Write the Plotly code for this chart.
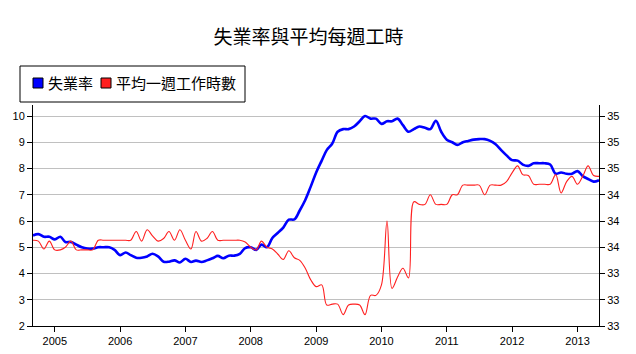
import plotly.graph_objects as go
import pandas as pd

title_text = "失業率與平均每週工時"
series_names = ["失業率", "平均一週工作時數"]
start_month = "2004-09-01"
end_month = "2013-05-01"
year_ticks = ["2005", "2006", "2007", "2008", "2009", "2010", "2011", "2012", "2013"]

unemployment = [
    5.45, 5.5, 5.4, 5.4,
    5.3, 5.4, 5.2, 5.2, 5.1, 5.0, 4.95, 4.95, 5.0, 5.0, 5.0, 4.9,
    4.7, 4.8, 4.7, 4.6, 4.6, 4.65, 4.75, 4.65, 4.45, 4.45, 4.5, 4.42,
    4.56, 4.44, 4.49, 4.44, 4.5, 4.58, 4.67, 4.58, 4.68, 4.68, 4.75, 4.97,
    5.0, 4.9, 5.1, 5.0, 5.35, 5.55, 5.75, 6.05, 6.06, 6.4, 6.8, 7.3,
    7.85, 8.3, 8.7, 8.95, 9.4, 9.5, 9.5, 9.6, 9.8, 10.0, 9.9, 9.9,
    9.7, 9.8, 9.8, 9.9, 9.65, 9.4, 9.5, 9.6, 9.55, 9.5, 9.82, 9.4,
    9.1, 9.0, 8.9, 9.0, 9.05, 9.1, 9.12, 9.12, 9.05, 8.92, 8.7, 8.5,
    8.32, 8.3, 8.15, 8.1, 8.2, 8.2, 8.2, 8.15, 7.8, 7.85, 7.8, 7.8,
    7.9, 7.7, 7.6, 7.5, 7.55,
]

weekly_hours = [
    33.78, 33.77, 33.68, 33.77,
    33.67, 33.67, 33.7, 33.77, 33.67, 33.67, 33.67, 33.67, 33.78, 33.78, 33.78, 33.78,
    33.78, 33.78, 33.78, 33.88, 33.77, 33.9, 33.83, 33.77, 33.8, 33.88, 33.78, 33.9,
    33.78, 33.68, 33.88, 33.77, 33.8, 33.88, 33.78, 33.78, 33.78, 33.78, 33.78, 33.76,
    33.7, 33.67, 33.77, 33.7, 33.68, 33.62, 33.56, 33.66, 33.58, 33.55, 33.46, 33.33,
    33.25, 33.27, 33.04, 33.05, 33.05, 32.93, 33.04, 33.05, 33.04, 32.93, 33.15, 33.15,
    33.27, 34.0, 33.23, 33.36, 33.46, 33.35, 34.22, 34.19, 34.19, 34.3, 34.19, 34.19,
    34.19, 34.3, 34.3, 34.41, 34.41, 34.41, 34.41, 34.3, 34.41, 34.41, 34.41, 34.45,
    34.55, 34.63, 34.53, 34.52, 34.42, 34.42, 34.42, 34.42, 34.53, 34.32, 34.45, 34.51,
    34.42, 34.52, 34.63, 34.52, 34.51,
]

months = pd.date_range(start_month, end_month, freq="MS")

W, H = 636, 354
ML, MR, MT, MB = 33, 37, 105, 28
PW, PH = W - ML - MR, H - MT - MB


def px_x(p):
    return (p - ML) / PW


def px_y(p):
    return (H - MB - p) / PH


BLUE = "#0000ff"
RED = "#ff2020"
CJK = "Noto Sans CJK TC"
NUM = "Liberation Sans"

fig = go.Figure()
fig.add_trace(go.Scatter(
    x=months, y=unemployment, name=series_names[0], mode="lines",
    line=dict(color=BLUE, width=2.6, shape="spline", smoothing=1),
    showlegend=False,
))
fig.add_trace(go.Scatter(
    x=months, y=weekly_hours, name=series_names[1], mode="lines", yaxis="y2",
    line=dict(color=RED, width=1.1, shape="spline", smoothing=1),
    showlegend=False,
))

shapes = [
    dict(type="rect", xref="paper", yref="paper",
         x0=px_x(20), x1=px_x(245), y0=px_y(102), y1=px_y(66),
         line=dict(color="black", width=1), fillcolor="white", layer="above"),
    dict(type="rect", xref="paper", yref="paper",
         x0=px_x(33), x1=px_x(43), y0=px_y(88), y1=px_y(78),
         line=dict(color="black", width=1), fillcolor=BLUE, layer="above"),
    dict(type="rect", xref="paper", yref="paper",
         x0=px_x(101), x1=px_x(111), y0=px_y(88), y1=px_y(78),
         line=dict(color="black", width=1), fillcolor=RED, layer="above"),
]
annotations = [
    dict(text=series_names[0], xref="paper", yref="paper", x=px_x(46), y=px_y(83),
         xanchor="left", yanchor="middle", showarrow=False,
         font=dict(family=CJK, size=15, color="black")),
    dict(text=series_names[1], xref="paper", yref="paper", x=px_x(114), y=px_y(83),
         xanchor="left", yanchor="middle", showarrow=False,
         font=dict(family=CJK, size=15, color="black")),
]

fig.update_layout(
    width=W, height=H,
    margin=dict(l=ML, r=MR, t=MT, b=MB, pad=0, autoexpand=False),
    paper_bgcolor="white", plot_bgcolor="white",
    title=dict(text=title_text, x=0.485, xanchor="center", y=1 - 37 / H,
               yanchor="middle", yref="container", automargin=False,
               font=dict(family=CJK, size=19, color="black")),
    xaxis=dict(
        type="date", range=[start_month, end_month], automargin=False,
        tickvals=[f"{y}-01-01" for y in year_ticks], ticktext=year_ticks,
        showgrid=False, zeroline=False,
        showline=True, linecolor="black", linewidth=1,
        ticks="outside", ticklen=5, tickcolor="black",
        tickfont=dict(family=NUM, size=11, color="black"),
    ),
    yaxis=dict(
        range=[2, 2 + PH / 26.25], tick0=2, dtick=1, automargin=False,
        showgrid=True, gridcolor="#c0c0c0", gridwidth=1, zeroline=False,
        showline=True, linecolor="black", linewidth=1,
        ticks="outside", ticklen=5, tickcolor="black",
        tickfont=dict(family=NUM, size=11, color="black"),
    ),
    yaxis2=dict(
        overlaying="y", side="right", automargin=False,
        range=[32.8, 32.8 + PH / 87.5], tick0=32.8, dtick=0.3, tickformat=".0f",
        showgrid=False, zeroline=False,
        showline=True, linecolor="black", linewidth=1,
        ticks="outside", ticklen=5, tickcolor="black",
        tickfont=dict(family=NUM, size=11, color="black"),
    ),
    shapes=shapes, annotations=annotations,
)

fig.write_html("out.html")
